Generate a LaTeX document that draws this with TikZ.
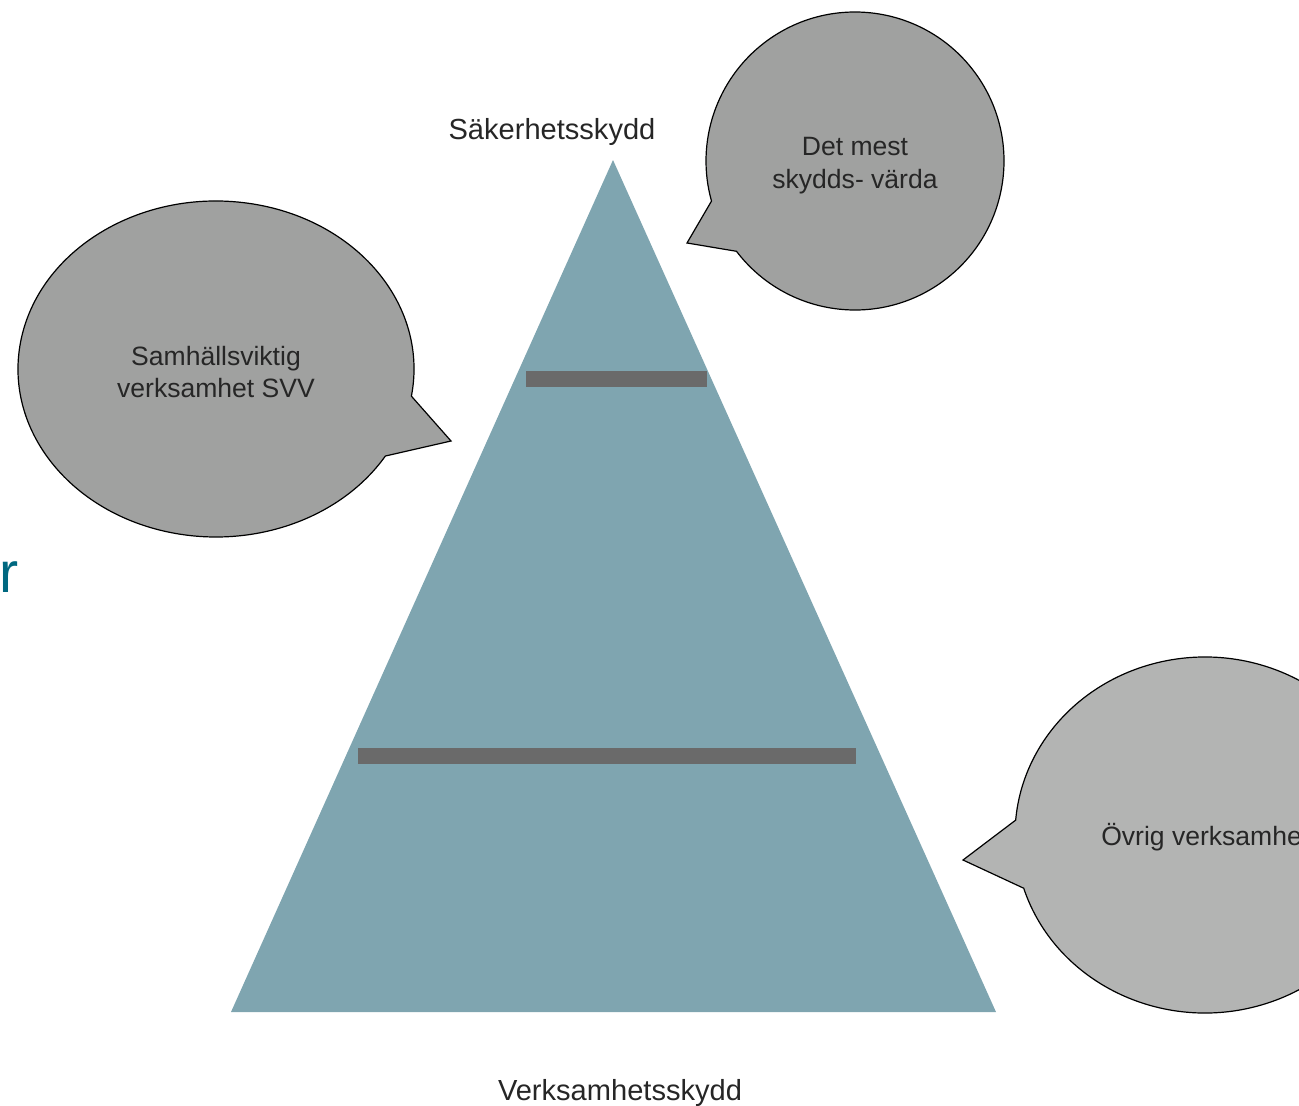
\documentclass[tikz,border=0pt]{standalone}
\usepackage{fontspec}
\setmainfont{Liberation Sans}
\definecolor{pyr}{RGB}{127,165,176}
\definecolor{barc}{RGB}{106,106,106}
\definecolor{bubA}{RGB}{160,161,160}
\definecolor{bubB}{RGB}{179,180,179}
\definecolor{txt}{RGB}{38,38,38}
\definecolor{teal}{RGB}{0,104,128}
\begin{document}
\begin{tikzpicture}[x=0.75pt,y=0.75pt,
  lbl/.style={font=\fontsize{21.8pt}{24.8pt}\selectfont,text=txt,inner sep=0pt,align=center},
  blbl/.style={font=\fontsize{19.9pt}{24.6pt}\selectfont,text=txt,inner sep=0pt,align=center},
  bubble/.style={draw=black,line width=0.9pt,line join=miter},
  barstyle/.style={fill=barc,draw=none}]
\useasboundingbox (0,0) rectangle (1299,-1106);
\clip (0,0) rectangle (1299,-1106);
% pyramid
\fill[pyr] (613,-160) -- (996,-1012) -- (231,-1012) -- cycle;
\fill[barstyle] (526,-371) rectangle (707,-387);
\fill[barstyle] (358,-748) rectangle (856,-764);
% top-right bubble
\draw[bubble,fill=bubA] (855,-161) ++(217.3:149 and 149)
  arc[start angle=217.3,end angle=555.6,x radius=149,y radius=149]
  -- (687,-243) -- cycle;
% left bubble
\draw[bubble,fill=bubA] (216,-369) ++(-9.3:198 and 168)
  arc[start angle=-9.3,end angle=328.8,x radius=198,y radius=168]
  -- (451,-441) -- cycle;
% right bubble
\draw[bubble,fill=bubB] (1205,-835) ++(197.4:190 and 178)
  arc[start angle=197.4,end angle=535.2,x radius=190,y radius=178]
  -- (963,-860) -- cycle;
% texts
\node[lbl,anchor=base] (top) at (552,-139) {Säkerhetsskydd};
\node[lbl,anchor=base] (bottom) at (620,-1100) {Verksamhetsskydd};
\node[blbl] (b1) at (855,-166) {Det mest\\skydds- värda};
\node[blbl] (b2) at (216,-372) {Samhällsviktig\\verksamhet SVV};
\node[blbl,anchor=base west] (b3) at (1101,-845) {Övrig verksamhet};
\node[font=\fontsize{43pt}{50pt}\selectfont,text=teal,inner sep=0pt,anchor=base west] (r) at (-1,-592) {r};
\end{tikzpicture}
\end{document}
